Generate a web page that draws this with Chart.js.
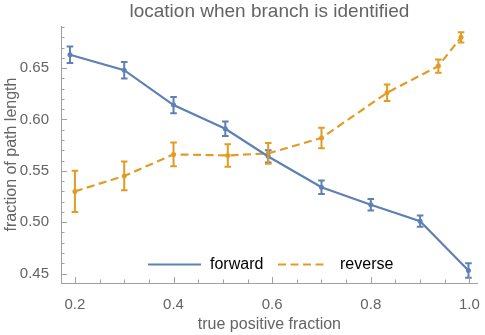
<!DOCTYPE html>
<html><head><meta charset="utf-8">
<script src="https://cdn.jsdelivr.net/npm/chart.js@4"></script>
<style>html,body{margin:0;padding:0;background:#fff}</style>
</head><body><canvas id="c" width="485" height="335"></canvas>
<script>
const forwardX = [0.19, 0.30, 0.40, 0.505, 0.592, 0.70, 0.80, 0.90, 0.998];
const forwardY = [0.663, 0.648, 0.614, 0.591, 0.564, 0.534, 0.517, 0.501, 0.453];
const forwardErr = [0.008, 0.008, 0.008, 0.007, 0.006, 0.0065, 0.0055, 0.0055, 0.007];
const reverseX = [0.20, 0.30, 0.40, 0.51, 0.592, 0.70, 0.833, 0.937, 0.983];
const reverseY = [0.530, 0.545, 0.566, 0.565, 0.567, 0.582, 0.626, 0.652, 0.680];
const reverseErr = [0.020, 0.014, 0.0115, 0.011, 0.010, 0.010, 0.008, 0.0065, 0.005];
const xTicks = [0.2, 0.4, 0.6, 0.8, 1.0];
const yTicks = [0.45, 0.50, 0.55, 0.60, 0.65];
const seriesNames = ['forward', 'reverse'];

const BLUE = '#5e81b5', ORANGE = '#e19c24';
const FONT = "'Liberation Sans', Arial, sans-serif";
const TXT = '#646464', AXIS = '#a0a0a0';

const errs = [forwardErr, reverseErr];

const errorBars = {
  id: 'errorBars',
  afterDatasetsDraw(chart) {
    const ctx = chart.ctx, xs = chart.scales.x, ys = chart.scales.y;
    chart.data.datasets.forEach((ds, di) => {
      ctx.save();
      ctx.strokeStyle = ds.borderColor;
      ctx.lineWidth = 2;
      ctx.setLineDash([]);
      ds.data.forEach((p, i) => {
        const e = errs[di][i];
        const px = xs.getPixelForValue(p.x);
        const y1 = ys.getPixelForValue(p.y - e), y2 = ys.getPixelForValue(p.y + e);
        ctx.beginPath();
        ctx.moveTo(px, y1); ctx.lineTo(px, y2);
        ctx.moveTo(px - 3.3, y1); ctx.lineTo(px + 3.3, y1);
        ctx.moveTo(px - 3.3, y2); ctx.lineTo(px + 3.3, y2);
        ctx.stroke();
      });
      ctx.restore();
    });
  }
};

const frameTicks = {
  id: 'frameTicks',
  afterDraw(chart) {
    const ctx = chart.ctx, xs = chart.scales.x, ys = chart.scales.y, a = chart.chartArea;
    ctx.save();
    ctx.strokeStyle = AXIS; ctx.lineWidth = 1;
    ctx.beginPath();
    for (let k = 0; k <= 16; k++) {
      const v = 0.2 + k * 0.05;
      const px = Math.round(xs.getPixelForValue(v)) + 0.5;
      const len = (k % 4 === 0) ? 6 : 3.5;
      ctx.moveTo(px, a.bottom); ctx.lineTo(px, a.bottom - len);
    }
    for (let k = 0; k <= 25; k++) {
      const v = 0.44 + k * 0.01;
      if (v < ys.min || v > ys.max) continue;
      const py = Math.round(ys.getPixelForValue(v)) + 0.5;
      const len = ((k - 1) % 5 === 0) ? 6 : 3.5;
      ctx.moveTo(a.left, py); ctx.lineTo(a.left + len, py);
    }
    ctx.stroke();
    ctx.restore();
  }
};

const legendBox = {
  id: 'legendBox',
  afterDraw(chart) {
    const ctx = chart.ctx;
    const y = 264.5;
    const items = [
      {x0: 148, x1: 201, tx: 210, ds: chart.data.datasets[0]},
      {x0: 278, x1: 327, tx: 340, ds: chart.data.datasets[1]}
    ];
    ctx.save();
    ctx.font = '16px ' + FONT;
    ctx.textBaseline = 'middle';
    ctx.textAlign = 'left';
    items.forEach(it => {
      ctx.strokeStyle = it.ds.borderColor;
      ctx.lineWidth = 2;
      ctx.setLineDash(it.ds.borderDash || []);
      ctx.beginPath(); ctx.moveTo(it.x0, y); ctx.lineTo(it.x1, y); ctx.stroke();
      ctx.fillStyle = '#000';
      ctx.fillText(it.ds.label, it.tx, y);
    });
    ctx.restore();
  }
};

new Chart(document.getElementById('c'), {
  type: 'line',
  data: {
    datasets: [
      {
        label: seriesNames[0],
        data: forwardX.map((x, i) => ({x: x, y: forwardY[i]})),
        borderColor: BLUE, backgroundColor: BLUE,
        borderWidth: 2.2, pointRadius: 2.5, pointBorderWidth: 0, tension: 0
      },
      {
        label: seriesNames[1],
        data: reverseX.map((x, i) => ({x: x, y: reverseY[i]})),
        borderColor: ORANGE, backgroundColor: ORANGE,
        borderWidth: 2.2, borderDash: [8, 4.5], pointRadius: 2.5, pointBorderWidth: 0, tension: 0
      }
    ]
  },
  options: {
    responsive: false,
    animation: false,
    devicePixelRatio: 1,
    layout: {padding: {left: 0, right: 4, top: 0, bottom: 0}},
    plugins: {
      legend: {display: false},
      tooltip: {enabled: false},
      title: {
        display: true,
        text: 'location when branch is identified',
        color: TXT,
        fullSize: false,
        font: {family: FONT, size: 19, weight: 'normal'},
        padding: {top: 0.5, bottom: 2.7}
      }
    },
    scales: {
      x: {
        type: 'linear',
        min: 0.1718, max: 1.017,
        afterBuildTicks: s => { s.ticks = xTicks.map(v => ({value: v})); },
        afterFit: s => { s.height = 52; },
        grid: {display: false},
        border: {display: true, color: AXIS, width: 1},
        ticks: {
          color: TXT, padding: 5,
          font: {family: FONT, size: 15},
          callback: v => Number(v).toFixed(1)
        },
        title: {
          display: true, text: 'true positive fraction', color: TXT,
          font: {family: FONT, size: 16}, padding: {top: 0, bottom: 1}
        }
      },
      y: {
        type: 'linear',
        min: 0.4408, max: 0.691,
        afterBuildTicks: s => { s.ticks = yTicks.map(v => ({value: v})); },
        afterFit: s => { s.width = 61; },
        grid: {display: false},
        border: {display: true, color: AXIS, width: 1},
        ticks: {
          color: TXT, padding: 4,
          font: {family: FONT, size: 15},
          callback: v => Number(v).toFixed(2)
        },
        title: {
          display: true, text: 'fraction of path length', color: TXT,
          font: {family: FONT, size: 16}, padding: {top: 1.5, bottom: 0}
        }
      }
    }
  },
  plugins: [errorBars, frameTicks, legendBox]
});
</script>
</body></html>
